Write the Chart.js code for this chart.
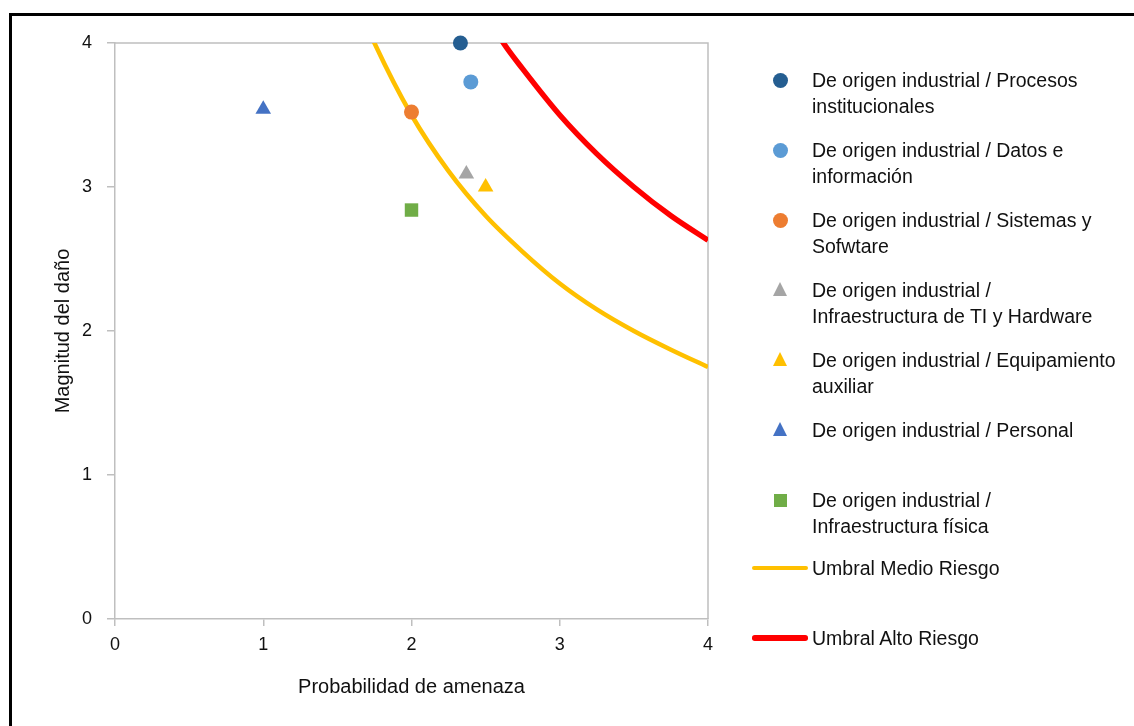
<!DOCTYPE html>
<html>
<head>
<meta charset="utf-8">
<script src="https://cdn.jsdelivr.net/npm/chart.js@4/dist/chart.umd.min.js"></script>
<style>
  html, body { margin: 0; padding: 0; background: #fff; }
  #wrap { position: relative; width: 1134px; height: 726px; overflow: hidden; }
  #frame { position: absolute; left: 9px; top: 13px; right: -10px; bottom: -10px;
           border-left: 3px solid #000; border-top: 3px solid #000; }
  #chart { position: absolute; left: 0; top: 0; }
  #legend { position: absolute; left: 0; top: 0; width: 1134px; height: 726px; pointer-events: none;
            font-family: "Liberation Sans Narrow", "Arial Narrow", "Liberation Sans", Arial, sans-serif;
            font-size: 19.5px; color: #111; }
  .item { position: absolute; left: 812px; line-height: 26px; }
  .mk { position: absolute; }
</style>
</head>
<body>
<div id="wrap">
  <div id="frame"></div>
  <canvas id="chart" width="1134" height="726"></canvas>
  <div id="legend"></div>
</div>
<script>
// Risk assessment: threat probability (x) vs. damage magnitude (y)
const seriesNames = [
  "De origen industrial / Procesos institucionales",
  "De origen industrial / Datos e información",
  "De origen industrial / Sistemas y Sofwtare",
  "De origen industrial / Infraestructura de TI y Hardware",
  "De origen industrial / Equipamiento auxiliar",
  "De origen industrial / Personal",
  "De origen industrial / Infraestructura física"
];
// legend text split into the displayed lines
const legendLines = [
  ["De origen industrial / Procesos", "institucionales"],
  ["De origen industrial / Datos e", "información"],
  ["De origen industrial / Sistemas y", "Sofwtare"],
  ["De origen industrial /", "Infraestructura de TI y Hardware"],
  ["De origen industrial / Equipamiento", "auxiliar"],
  ["De origen industrial / Personal"],
  ["De origen industrial /", "Infraestructura física"]
];
const probability = [2.33, 2.40, 2.00, 2.37, 2.50, 1.00, 2.00];
const magnitude   = [4.00, 3.73, 3.52, 3.09, 3.00, 3.54, 2.84];
const pointColors = ["#255e91", "#5b9bd5", "#ed7d31", "#a5a5a5", "#ffc000", "#4472c4", "#70ad47"];
const pointShapes = ["circle", "circle", "circle", "triangle", "triangle", "triangle", "rect"];

// threshold curves
const mediumName = "Umbral Medio Riesgo";
const mediumX = [1.70, 1.75, 2.00, 2.25, 2.50, 2.75, 3.00, 3.25, 3.50, 3.75, 4.00];
const mediumY = [4.12, 4.00, 3.50, 3.11, 2.80, 2.55, 2.33, 2.15, 2.00, 1.87, 1.75];
const highName = "Umbral Alto Riesgo";
const highX = [2.55, 2.62, 2.75, 3.00, 3.25, 3.50, 3.75, 4.00];
const highY = [4.12, 4.00, 3.82, 3.50, 3.23, 3.00, 2.80, 2.63];

const axisTicks = [0, 1, 2, 3, 4];
const xTitle = "Probabilidad de amenaza";
const yTitle = "Magnitud del daño";

const FONT = '"Liberation Sans Narrow", "Arial Narrow", "Liberation Sans", Arial, sans-serif';
const GRAY = "#bfbfbf";
const RADIUS = { circle: 7.5, triangle: 9, rect: 9.5 };

const datasets = [];
seriesNames.forEach((name, i) => {
  datasets.push({
    type: "scatter",
    label: name,
    data: [{ x: probability[i], y: magnitude[i] }],
    pointStyle: pointShapes[i],
    pointRadius: RADIUS[pointShapes[i]],
    backgroundColor: pointColors[i],
    borderColor: pointColors[i],
    borderWidth: 0,
    clip: false,
    order: 0
  });
});
datasets.push({
  type: "line", label: mediumName,
  data: mediumX.map((x, i) => ({ x, y: mediumY[i] })),
  borderColor: "#ffc000", borderWidth: 4.5, pointRadius: 0,
  cubicInterpolationMode: "monotone", fill: false, order: 2
});
datasets.push({
  type: "line", label: highName,
  data: highX.map((x, i) => ({ x, y: highY[i] })),
  borderColor: "#ff0000", borderWidth: 5.5, pointRadius: 0,
  cubicInterpolationMode: "monotone", fill: false, order: 2
});

// closes the plot box on the top and right sides
const boxPlugin = {
  id: "plotBox",
  beforeDatasetsDraw(chart) {
    const { ctx, chartArea: a } = chart;
    ctx.save();
    ctx.strokeStyle = GRAY;
    ctx.lineWidth = 1.5;
    ctx.beginPath();
    ctx.moveTo(a.left, a.top);
    ctx.lineTo(a.right, a.top);
    ctx.lineTo(a.right, a.bottom);
    ctx.stroke();
    ctx.restore();
  }
};

new Chart(document.getElementById("chart"), {
  data: { datasets },
  plugins: [boxPlugin],
  options: {
    responsive: false,
    animation: false,
    layout: { padding: { left: 0, right: 426, top: 43, bottom: 17 } },
    plugins: { legend: { display: false }, tooltip: { enabled: false } },
    scales: {
      x: {
        type: "linear", min: 0, max: 4,
        afterFit(s) { s.height = 90; },
        afterBuildTicks(s) { s.ticks = axisTicks.map(v => ({ value: v })); },
        ticks: { color: "#111", font: { family: FONT, size: 18 }, padding: 8 },
        grid: { drawOnChartArea: false, drawTicks: true, tickLength: 7, color: GRAY, lineWidth: 1.5 },
        border: { color: GRAY, width: 1.5 },
        title: { display: true, text: xTitle, color: "#111", font: { family: FONT, size: 20 }, padding: { top: 0, bottom: 10 } }
      },
      y: {
        type: "linear", min: 0, max: 4,
        afterFit(s) { s.width = 115; },
        afterBuildTicks(s) { s.ticks = axisTicks.map(v => ({ value: v })); },
        ticks: { color: "#111", font: { family: FONT, size: 18 }, padding: 15 },
        grid: { drawOnChartArea: false, drawTicks: true, tickLength: 8, color: GRAY, lineWidth: 1.5 },
        border: { color: GRAY, width: 1.5 },
        title: { display: true, text: yTitle, color: "#111", font: { family: FONT, size: 20 }, padding: { top: 51, bottom: 0 } }
      }
    }
  }
});

// legend on the right
const legend = document.getElementById("legend");
const rowTop = 80, rowGap = 70;
legendLines.forEach((lines, i) => {
  const cy = rowTop + i * rowGap;
  const mk = document.createElement("div");
  mk.className = "mk";
  const c = pointColors[i];
  if (pointShapes[i] === "circle") {
    Object.assign(mk.style, { left: "773px", top: (cy - 7.5) + "px", width: "15px", height: "15px", borderRadius: "50%", background: c });
  } else if (pointShapes[i] === "triangle") {
    Object.assign(mk.style, { left: "773px", top: (cy - 8) + "px", width: "0", height: "0",
      borderLeft: "7.5px solid transparent", borderRight: "7.5px solid transparent", borderBottom: "14px solid " + c });
  } else {
    Object.assign(mk.style, { left: "774px", top: (cy - 6.5) + "px", width: "13px", height: "13px", background: c });
  }
  legend.appendChild(mk);
  const t = document.createElement("div");
  t.className = "item";
  t.style.top = (cy - 13) + "px";
  t.innerHTML = lines.join("<br>");
  legend.appendChild(t);
});
[[mediumName, "#ffc000", 568, 4.5], [highName, "#ff0000", 638, 5.5]].forEach(([name, col, cy, w]) => {
  const ln = document.createElement("div");
  ln.className = "mk";
  Object.assign(ln.style, { left: "752px", top: (cy - w / 2) + "px", width: "56px", height: w + "px", background: col, borderRadius: (w / 2) + "px" });
  legend.appendChild(ln);
  const t = document.createElement("div");
  t.className = "item";
  t.style.top = (cy - 13) + "px";
  t.textContent = name;
  legend.appendChild(t);
});
</script>
</body>
</html>
